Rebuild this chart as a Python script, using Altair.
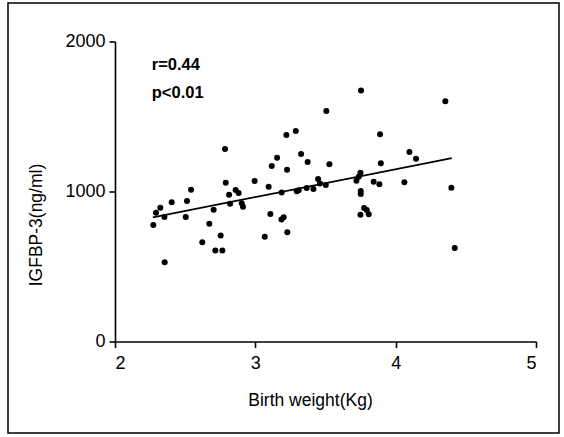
import altair as alt
import pandas as pd

# Birth weight (kg) and IGFBP-3 (ng/ml)
birth_weight = [
    2.273, 2.292, 2.323, 2.352, 2.354, 2.404, 2.504, 2.513, 2.542, 2.622,
    2.672, 2.703, 2.715, 2.753, 2.765, 2.784, 2.789, 2.813, 2.820, 2.860,
    2.881, 2.903, 2.912, 2.995, 3.067, 3.095, 3.107, 3.117, 3.155, 3.188,
    3.186, 3.202, 3.221, 3.226, 3.228, 3.288, 3.295, 3.309, 3.326, 3.366,
    3.373, 3.414, 3.447, 3.461, 3.502, 3.506, 3.528, 3.720, 3.737, 3.749,
    3.753, 3.751, 3.751, 3.749, 3.775, 3.794, 3.808, 3.843, 3.884, 3.889,
    3.894, 4.062, 4.098, 4.145, 4.354, 4.397, 4.421,
]
igfbp3 = [
    777, 859, 892, 830, 528, 928, 830, 937, 1012, 661,
    785, 879, 606, 706, 606, 1283, 1059, 979, 919, 1010,
    990, 921, 899, 1070, 699, 1032, 850, 1170, 1225, 994,
    814, 828, 1377, 1145, 728, 1403, 1001, 1008, 1250, 1023,
    1197, 1017, 1083, 1054, 1043, 1537, 1181, 1072, 1099, 1125,
    1674, 1003, 983, 845, 890, 877, 848, 1065, 1048, 1381,
    1188, 1061, 1263, 1219, 1601, 1025, 623,
]

# Regression line end points
fit_x = [2.27, 4.40]
fit_y = [828, 1222]

# Annotation
ann_text = ["r=0.44", "p<0.01"]
ann_x = [2.262, 2.262]
ann_y = [1813, 1624]

x_ticks = [2, 3, 4, 5]
y_ticks = [0, 1000, 2000]

FONT = "Liberation Sans"

pts = pd.DataFrame({"bw": birth_weight, "igf": igfbp3})
fit = pd.DataFrame({"bw": fit_x, "igf": fit_y})
ann = pd.DataFrame({"t": ann_text, "bw": ann_x, "igf": ann_y})
box = pd.DataFrame({"a": [0]})

x_scale = alt.Scale(domain=[2, 5], nice=False, zero=False)
y_scale = alt.Scale(domain=[0, 2000], nice=False)

x_axis = alt.Axis(
    values=x_ticks, format="d", title="Birth weight(Kg)", grid=False,
    domainColor="black", domainWidth=1.6, tickColor="black", tickWidth=1.6,
    tickSize=6, labelPadding=7, labelFontSize=18, labelFont=FONT,
    labelColor="black", titleFont=FONT, titleFontSize=17.5, titleFontWeight="normal",
    titleColor="black", titleY=50, titleX=195,
)
y_axis = alt.Axis(
    values=y_ticks, format="d", title="IGFBP-3(ng/ml)", grid=False,
    domainColor="black", domainWidth=1.6, tickColor="black", tickWidth=1.6,
    tickSize=6, labelPadding=4, labelFontSize=18, labelFont=FONT,
    labelColor="black", titleFont=FONT, titleFontSize=17.5, titleFontWeight="normal",
    titleColor="black", titleX=-70, titleY=183, titleAngle=-90,
)

points = alt.Chart(pts).mark_circle(size=36, color="black", opacity=1).encode(
    x=alt.X("bw:Q", scale=x_scale, axis=x_axis),
    y=alt.Y("igf:Q", scale=y_scale, axis=y_axis),
)

line = alt.Chart(fit).mark_line(color="black", strokeWidth=1.8).encode(
    x=alt.X("bw:Q", scale=x_scale),
    y=alt.Y("igf:Q", scale=y_scale),
)

text = alt.Chart(ann).mark_text(
    align="left", baseline="alphabetic", fontWeight="bold", fontSize=16.5,
    font=FONT, color="black",
).encode(
    x=alt.X("bw:Q", scale=x_scale),
    y=alt.Y("igf:Q", scale=y_scale),
    text="t:N",
)

border = alt.Chart(box).mark_rect(
    fill=None, fillOpacity=0, stroke="black", strokeWidth=1.5
).encode(
    x=alt.value(-107), x2=alt.value(444), y=alt.value(-38.5), y2=alt.value(391.5)
)

chart = alt.layer(border, line, points, text).properties(
    width=421, height=300,
    autosize=alt.AutoSizeParams(type="none"),
    padding={"left": 115, "top": 41.5, "right": 28, "bottom": 95.5},
    background="white",
).configure_view(stroke=None)

chart.save("out.html", embed_options={"renderer": "svg", "actions": False})
